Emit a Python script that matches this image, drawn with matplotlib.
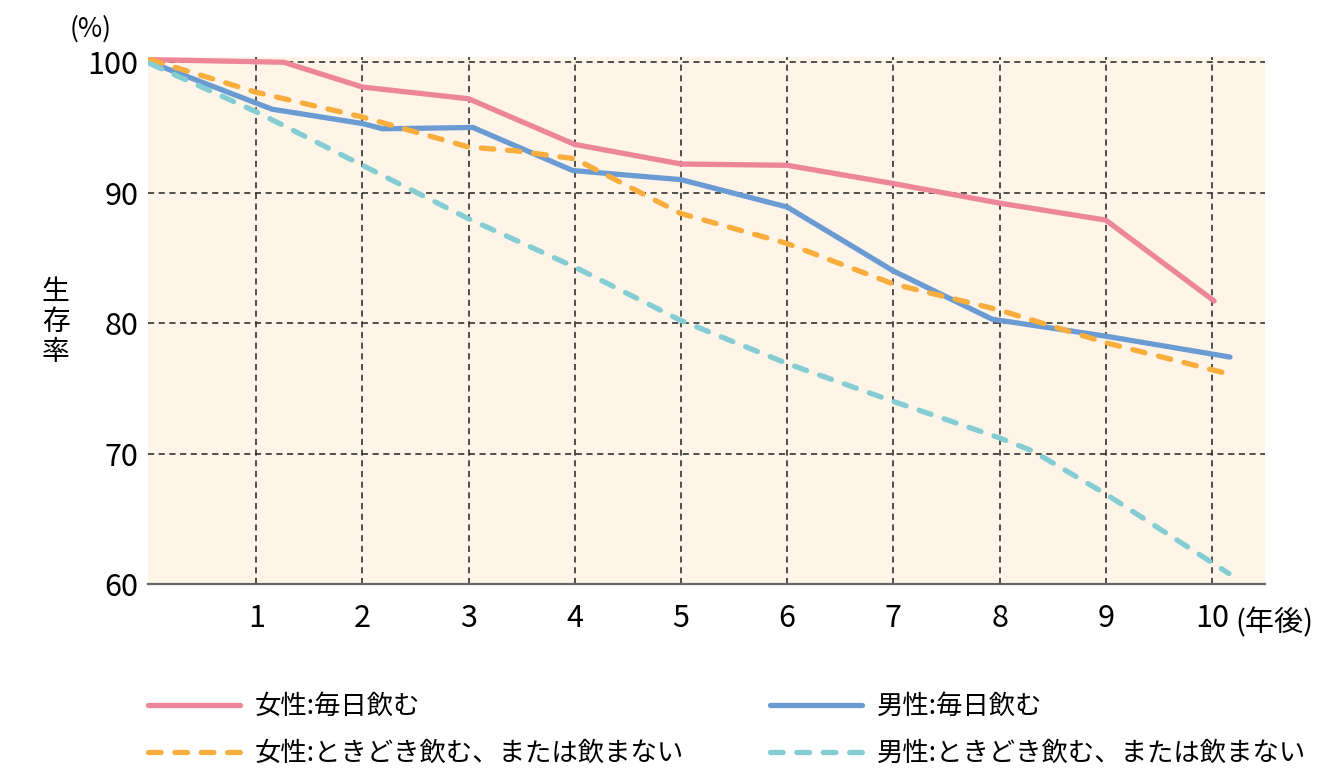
import numpy as np
import matplotlib.pyplot as plt

plt.rcParams['font.family'] = ['Noto Sans CJK JP', 'DejaVu Sans']

# 年後 / 生存率(%)
f_daily_x = [0, 1.26, 2, 3, 4, 5, 6, 7, 8, 9, 10.02]
f_daily_y = [100.2, 100.0, 98.1, 97.2, 93.7, 92.2, 92.1, 90.7, 89.2, 87.9, 81.7]

m_daily_x = [0, 1.15, 2, 2.19, 3.04, 3.98, 5, 6, 7, 7.93, 9, 10.17]
m_daily_y = [100.0, 96.4, 95.3, 94.9, 95.0, 91.7, 91.0, 88.9, 84.0, 80.3, 79.0, 77.4]

f_some_x = [0, 1, 2, 3, 3.45, 4, 5, 6, 7, 8, 9, 10.11]
f_some_y = [100.2, 97.7, 95.8, 93.5, 93.2, 92.6, 88.4, 86.1, 83.0, 81.0, 78.5, 76.2]

m_some_x = [0, 1, 2, 3, 4, 5, 6, 7, 8, 8.31, 9, 10.16]
m_some_y = [99.9, 96.2, 92.1, 88.0, 84.3, 80.2, 76.9, 74.0, 71.2, 70.2, 66.9, 60.8]

labels = ['女性:毎日飲む', '男性:毎日飲む',
          '女性:ときどき飲む、または飲まない', '男性:ときどき飲む、または飲まない']
colors = ['#EE8699', '#6B9BD3', '#F8AD3D', '#84CDD3']

xticks = list(range(1, 11))
yticks = [60, 70, 80, 90, 100]

fig = plt.figure(figsize=(13.28, 7.76), dpi=100)
ax = fig.add_axes([0.1114, 0.2474, 0.8412, 0.6791])
ax.set_facecolor('#FEF4E8')

dash = (0, (2.4, 2.6))
l1, = ax.plot(f_daily_x, f_daily_y, color=colors[0], lw=3.8, solid_capstyle='round', zorder=3)
l2, = ax.plot(m_daily_x, m_daily_y, color=colors[1], lw=3.8, solid_capstyle='round', zorder=3)
l3, = ax.plot(f_some_x, f_some_y, color=colors[2], lw=3.8, ls=dash, dash_capstyle='round', zorder=4)
l4, = ax.plot(m_some_x, m_some_y, color=colors[3], lw=3.8, ls=dash, dash_capstyle='round', zorder=4)

ax.set_xlim(-0.02, 10.5)
ax.set_ylim(60, 100.4)
ax.set_xticks(xticks)
ax.set_yticks(yticks)
ax.tick_params(length=0, labelsize=22)
ax.tick_params(axis='x', pad=14)
ax.tick_params(axis='y', pad=7)

for x in xticks:
    ax.axvline(x, color='#222222', lw=1.1, ls=(0, (4, 3)), zorder=1)
for y in yticks[1:]:
    ax.axhline(y, color='#222222', lw=1.1, ls=(0, (4, 3)), zorder=1)

for s in ['top', 'right', 'left']:
    ax.spines[s].set_visible(False)
ax.spines['bottom'].set_color('#666666')
ax.spines['bottom'].set_linewidth(1.6)

fig.text(0.068, 0.962, '(%)', fontsize=19, ha='center', va='center')
fig.text(0.042, 0.585, '生\n存\n率', fontsize=20, ha='center', va='center', linespacing=1.0)
fig.text(0.93, 0.197, '(年後)', fontsize=21, ha='left', va='center')

leg_kw = dict(loc='upper left', frameon=False, fontsize=19, handlelength=3.5,
              handletextpad=0.55, labelspacing=0.75, borderpad=0, borderaxespad=0)
leg1 = fig.legend([l1, l3], [labels[0], labels[2]], bbox_to_anchor=(0.1114, 0.107), **leg_kw)
leg2 = fig.legend([l2, l4], [labels[1], labels[3]], bbox_to_anchor=(0.5798, 0.107), **leg_kw)

fig.savefig('out.png', dpi=100)
